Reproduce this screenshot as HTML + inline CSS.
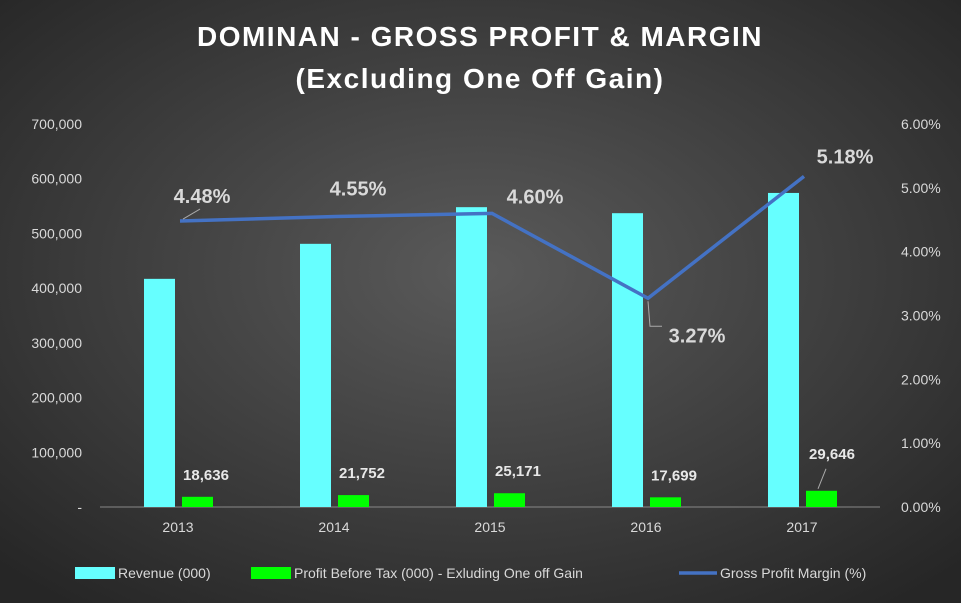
<!DOCTYPE html>
<html><head><meta charset="utf-8"><style>
body{margin:0;width:961px;height:603px;overflow:hidden;font-family:"Liberation Sans",sans-serif;}
svg{display:block}
</style></head><body>
<svg id="c" width="961" height="603">
<defs><radialGradient id="bg" cx="50%" cy="45%" r="70%"><stop offset="0" stop-color="#5a5a5a"/><stop offset="1" stop-color="#262626"/></radialGradient></defs>
<rect width="961" height="603" fill="url(#bg)"/>
<text x="480" y="46" fill="#fff" font-size="28" font-weight="bold" text-anchor="middle" letter-spacing="1.5">DOMINAN - GROSS PROFIT &amp; MARGIN</text>
<text x="480" y="88" fill="#fff" font-size="28" font-weight="bold" text-anchor="middle" letter-spacing="1.5">(Excluding One Off Gain)</text>
<g id="g"></g>
</svg>
<script>
const categories=["2013","2014","2015","2016","2017"];
const revenue=[417000,481000,548000,537000,574000];
const profit=[18636,21752,25171,17699,29646];
const margin=[4.48,4.55,4.60,3.27,5.18];
const leftTicks=[0,100000,200000,300000,400000,500000,600000,700000];
const rightTicks=[0,1,2,3,4,5,6];
const NS="http://www.w3.org/2000/svg",g=document.getElementById('g');
const x0=100,x1=880,yb=507,yt=124;
const yL=v=>yb-v/700000*(yb-yt), yR=v=>yb-v/6*(yb-yt);
const band=(x1-x0)/categories.length, xc=i=>x0+band*(i+0.5);
function el(t,a,txt){const e=document.createElementNS(NS,t);for(const k in a)e.setAttribute(k,a[k]);if(txt!==undefined)e.textContent=txt;g.appendChild(e);return e;}
const fmt=n=>n.toLocaleString('en-US');
const base=el('line',{x1:x0,x2:x1,y1:yb,y2:yb,stroke:'#888','stroke-width':1});

leftTicks.forEach(v=>{
 const t=el('text',{x:82,y:yL(v)+5,fill:'#d9d9d9','font-size':14,'text-anchor':'end'},v?fmt(v):'-');
 
});
rightTicks.forEach(v=>{
 const t=el('text',{x:901,y:yR(v)+5,fill:'#d9d9d9','font-size':14},v.toFixed(2)+'%');
 
});
categories.forEach((c,i)=>{
 const cx=xc(i);
 const t=el('text',{x:cx,y:532,fill:'#d9d9d9','font-size':14,'text-anchor':'middle'},c);
 
 const r=el('rect',{x:cx-34,y:yL(revenue[i]),width:31,height:yb-yL(revenue[i]),fill:'#66ffff'});
 
 const p=el('rect',{x:cx+4,y:yL(profit[i]),width:31,height:yb-yL(profit[i]),fill:'#00ff00'});
 
 const ly=i==4?yL(profit[i])-32:yL(profit[i])-17;
 const pl=el('text',{x:cx+(i==4?30:28),y:ly,fill:'#e8e8e8','font-size':15,'font-weight':'bold','text-anchor':'middle'},fmt(profit[i]));
 
});
const k=el('line',{x1:xc(4)+16,y1:yL(profit[4])-2,x2:xc(4)+24,y2:yL(profit[4])-22,stroke:'#aaa'});

const pts=margin.map((m,i)=>[xc(i)+2,yR(m)]);
const line=el('polyline',{points:pts.map(p=>p.join(',')).join(' '),fill:'none',stroke:'#4472c4','stroke-width':3.5});

const off=[[22,-24],[22,-27],[43,-16],[49,38],[41,-19]];
pts.forEach((p,i)=>{
 const t=el('text',{x:p[0]+off[i][0],y:p[1]+off[i][1]+6,fill:'#d9d9d9','font-size':20,'font-weight':'bold','text-anchor':'middle'},margin[i].toFixed(2)+'%');
 
});
const l2=el('polyline',{points:`${pts[3][0]},${pts[3][1]+3} ${pts[3][0]+2},${pts[3][1]+28} ${pts[3][0]+14},${pts[3][1]+28}`,fill:'none',stroke:'#aaa'});

const l3=el('line',{x1:pts[0][0]+3,y1:pts[0][1]-2,x2:pts[0][0]+20,y2:pts[0][1]-12,stroke:'#aaa'});

const legs=[[75,'rect','#66ffff','Revenue (000)'],[251,'rect','#00ff00','Profit Before Tax (000) - Exluding One off Gain'],[679,'line','#4472c4','Gross Profit Margin (%)']];
legs.forEach(L=>{
 let m;
 if(L[1]=='rect')m=el('rect',{x:L[0],y:567,width:40,height:12,fill:L[2]});
 else m=el('line',{x1:L[0],x2:L[0]+38,y1:573,y2:573,stroke:L[2],'stroke-width':3.5});
 
 const t=el('text',{x:L[0]+(L[1]=='rect'?43:41),y:578,fill:'#d9d9d9','font-size':14},L[3]);
 
});
</script>
</body></html>
